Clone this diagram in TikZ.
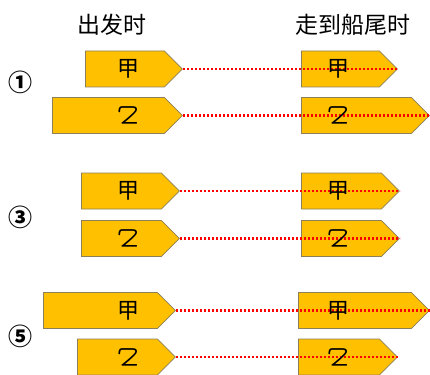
\documentclass[tikz,border=0pt]{standalone}
\usepackage{fontspec}
\setmainfont{Noto Sans CJK SC}
\newfontfamily\cjk{Noto Sans CJK SC}
\usetikzlibrary{shapes.symbols}
\definecolor{boxfill}{HTML}{FFC000}
\definecolor{boxline}{HTML}{8C7F5A}
\tikzset{
 flag/.style={signal, signal to=east, signal pointer angle=90, draw=boxline, fill=boxfill, line width=0.8pt, minimum height=36pt, inner sep=0pt, anchor=west},
 lbl/.style={font=\cjk\fontsize{22}{22}\selectfont, inner sep=0pt},
 flip/.style={lbl, rotate=180},
 link/.style={draw=red, line width=2.5pt, dash pattern=on 2pt off 2pt},
 head/.style={font=\cjk\fontsize{23}{23}\selectfont, inner sep=0pt},
 num/.style={font=\cjk\bfseries\fontsize{24}{24}\selectfont, inner sep=0pt}
}
\begin{document}
\begin{tikzpicture}[x=1pt,y=-1pt]
\useasboundingbox (0,0) rectangle (430,374);
\node[head] (h1) at (111.5,25) {出发时};
\node[head] (h2) at (352.5,25) {走到船尾时};
\node[num] (n1) at (21,82) {①};
\node[num] (n3) at (21,217) {③};
\node[num] (n5) at (21,336) {⑤};
% row 1
\node[flag, minimum width=97pt] (a1) at (85,69) {};
\node[flag, minimum width=96pt] (b1) at (301,69) {};
\node[flag, minimum width=130pt] (c1) at (52,115.5) {};
\node[flag, minimum width=128pt] (d1) at (301,115.5) {};
% row 3
\node[flag, minimum width=98pt] (a3) at (81,191) {};
\node[flag, minimum width=98pt] (b3) at (301,191) {};
\node[flag, minimum width=98pt] (c3) at (81,238.5) {};
\node[flag, minimum width=98pt] (d3) at (301,238.5) {};
% row 5
\node[flag, minimum width=132pt] (a5) at (43,310.5) {};
\node[flag, minimum width=131pt] (b5) at (298,310.5) {};
\node[flag, minimum width=98pt] (c5) at (77,357) {};
\node[flag, minimum width=99pt] (d5) at (298,357) {};
% links
\draw[link] (a1.east) -- (b1.east);
\draw[link] (c1.east) -- (d1.east);
\draw[link] (a3.east) -- (b3.east);
\draw[link] (c3.east) -- (d3.east);
\draw[link] (a5.east) -- (b5.east);
\draw[link] (c5.east) -- (d5.east);
% labels
\node[lbl] (ta1) at (128,69) {甲};
\node[lbl] (tb1) at (338,69) {甲};
\node[flip] (tc1) at (128,115.5) {乙};
\node[flip] (td1) at (338,115.5) {乙};
\node[lbl] (ta3) at (128,191) {甲};
\node[lbl] (tb3) at (338,191) {甲};
\node[flip] (tc3) at (128,238.5) {乙};
\node[flip] (td3) at (338,238.5) {乙};
\node[lbl] (ta5) at (128,310.5) {甲};
\node[lbl] (tb5) at (338,310.5) {甲};
\node[flip] (tc5) at (128,357) {乙};
\node[flip] (td5) at (338,357) {乙};
\end{tikzpicture}
\end{document}
